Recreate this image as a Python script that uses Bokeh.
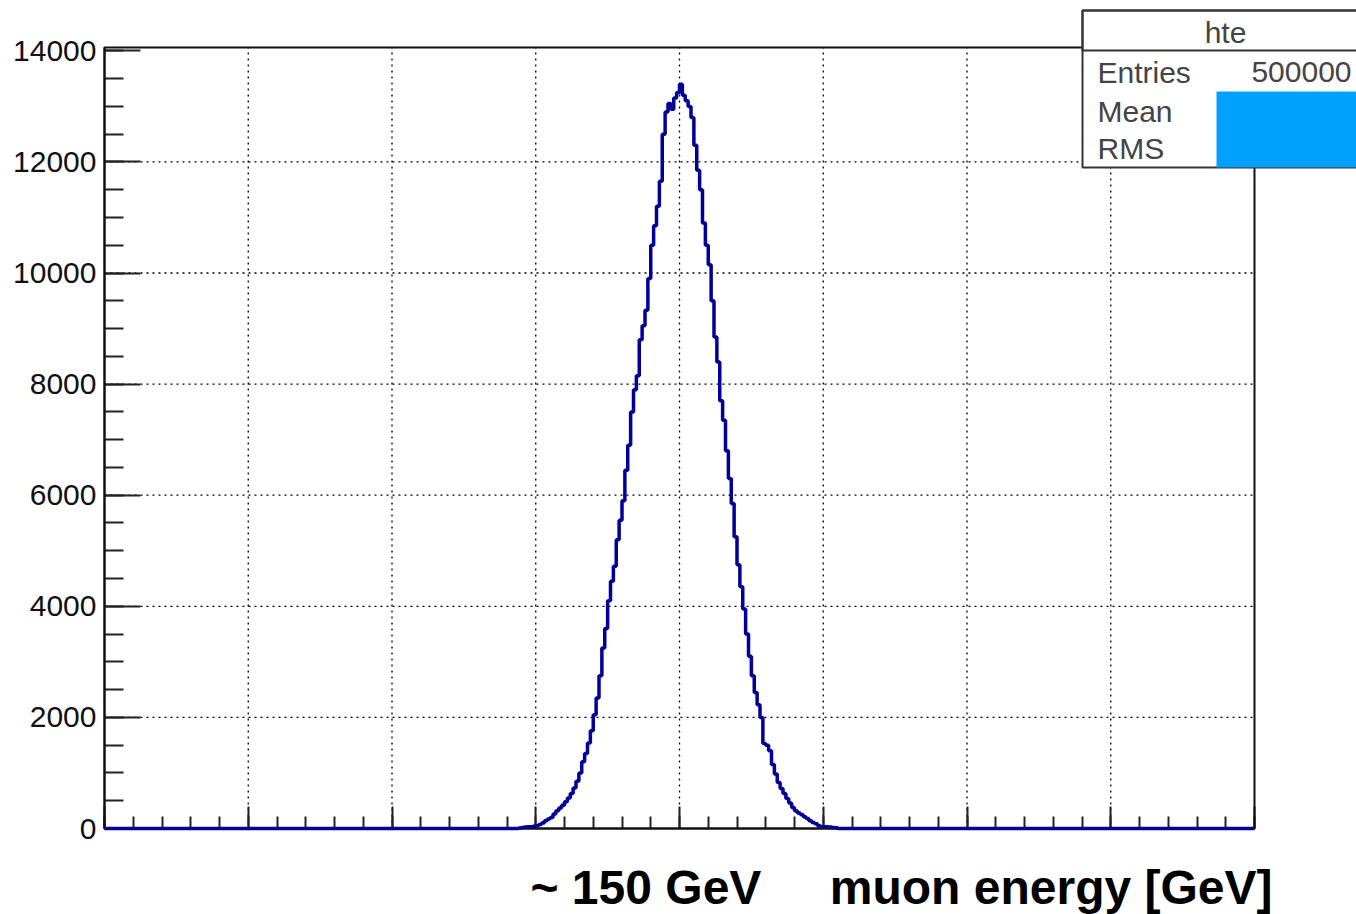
from bokeh.plotting import figure
from bokeh.models import Range1d, FixedTicker, Label, BoxAnnotation
from bokeh.embed import file_html
from bokeh.resources import INLINE

# ---- data ----
x_min, x_max = 0.0, 300.0        # muon energy range [GeV]
n_bins = 400
first_bin = 143                  # index of first listed bin
counts = [
    0, 10, 20, 25, 30, 30, 40, 50, 70, 100,
    140, 170, 200, 260, 320, 370, 420, 480, 550, 630,
    730, 850, 1000, 1200, 1350, 1540, 1760, 2050, 2350, 2750,
    3250, 3600, 4100, 4450, 4720, 5200, 5550, 5900, 6450, 6900,
    7500, 7900, 8150, 8800, 9050, 9330, 9900, 10500, 10850, 11200,
    11650, 12500, 12900, 13050, 12950, 13150, 13250, 13400, 13200, 13100,
    13000, 12800, 12300, 11850, 11500, 10900, 10500, 10150, 9500, 8850,
    8400, 7700, 7350, 6800, 6300, 5850, 5250, 4750, 4350, 3950,
    3500, 3100, 2750, 2450, 2230, 2000, 1530, 1500, 1400, 1150,
    980, 830, 720, 630, 540, 460, 380, 320, 280, 250,
    210, 180, 140, 110, 85, 50, 35, 30, 30, 25,
    20, 15, 0,
]
y_ticks = [0, 2000, 4000, 6000, 8000, 10000, 12000, 14000]
stats_title = "hte"
stats_rows = ["Entries", "Mean", "RMS"]
entries_text = "500000"
label_energy = "~ 150 GeV"
label_axis = "muon energy [GeV]"

# ---- build histogram arrays ----
bw = (x_max - x_min) / n_bins
vals = [0.0] * n_bins
for k, c in enumerate(counts):
    vals[first_bin + k] = c
edges = [x_min + i * bw for i in range(n_bins + 1)]
ys = vals + [vals[-1]]

Y_TOP = 14060.0
FONT = "Liberation Sans"
W, H = 1356, 914
# ROOT pad frame position on the page (pixels)
FL, FR, FT, FB = 104.0, 1254.0, 47.0, 828.0

def dx(px):
    return x_min + (px - FL) / (FR - FL) * (x_max - x_min)
def dy(py):
    return (FB - py) / (FB - FT) * Y_TOP

p = figure(width=W, height=H, output_backend="svg", toolbar_location=None,
           x_range=Range1d(dx(0), dx(W)), y_range=Range1d(dy(H), dy(0)),
           min_border=0, title=None)
p.background_fill_color = "white"
p.border_fill_color = "white"
p.outline_line_color = None
p.xgrid.visible = False
p.ygrid.visible = False

# axes, fixed at the frame edges
xmaj = [x_min + i * (x_max - x_min) / 8 for i in range(9)]
xmin_t = [x_min + i * (x_max - x_min) / 40 for i in range(41)]
p.xaxis.fixed_location = 0
p.xaxis.bounds = (x_min, x_max)
p.xaxis.ticker = FixedTicker(ticks=xmaj, minor_ticks=xmin_t)
p.xaxis.major_label_overrides = {t: "" for t in xmaj}
p.xaxis.major_tick_in = 22
p.xaxis.major_tick_out = 0
p.xaxis.minor_tick_in = 12
p.xaxis.minor_tick_out = 0

p.yaxis.fixed_location = x_min
p.yaxis.bounds = (0, Y_TOP)
p.yaxis.ticker = FixedTicker(ticks=y_ticks, minor_ticks=list(range(0, 14001, 500)))
p.yaxis.major_tick_in = 36
p.yaxis.major_tick_out = 0
p.yaxis.minor_tick_in = 19
p.yaxis.minor_tick_out = 0
p.yaxis.major_label_standoff = 8
p.yaxis.major_label_text_font = FONT
p.yaxis.major_label_text_font_size = "30px"
p.yaxis.major_label_text_color = "#111111"

for ax in (p.xaxis, p.yaxis):
    ax.axis_line_color = "#111111"
    ax.axis_line_width = 2
    ax.major_tick_line_color = "#222222"
    ax.major_tick_line_width = 2
    ax.minor_tick_line_color = "#222222"
    ax.minor_tick_line_width = 2

# dotted grid lines at the major ticks, inside the frame only
gx = xmaj[1:-1]
gy = y_ticks[1:-1]
p.segment(x0=gx, y0=[0] * len(gx), x1=gx, y1=[Y_TOP] * len(gx),
          line_color="black", line_dash="2 4", line_width=1.3, level="underlay")
p.segment(x0=[x_min] * len(gy), y0=gy, x1=[x_max] * len(gy), y1=gy,
          line_color="black", line_dash="2 4", line_width=1.3, level="underlay")

# frame box
p.add_layout(BoxAnnotation(left=x_min, right=x_max, bottom=0, top=Y_TOP,
                           fill_alpha=0, line_color="#111111", line_width=2, line_alpha=1.0))

# histogram
p.step(x=edges, y=ys, mode="after", line_color="#000099", line_width=3.5, level="overlay")

# text helper: place alphabetic baseline at a page pixel row
def text_y(baseline_px, size):
    return dy(baseline_px - 0.34 * size)

# bottom text
for txt, px, align in ((label_energy, 530, "left"), (label_axis, 1272, "right")):
    p.add_layout(Label(x=dx(px), y=text_y(903, 48), text=txt, text_font=FONT,
                       text_font_style="bold", text_font_size="48px",
                       text_align=align, text_baseline="alphabetic",
                       text_color="black"))

# stats box
p.add_layout(BoxAnnotation(left=dx(1082), right=dx(1420), top=dy(10), bottom=dy(167),
                           fill_color="white", fill_alpha=1.0,
                           line_color="#333333", line_width=2, line_alpha=1.0))
p.add_layout(BoxAnnotation(left=dx(1216), right=dx(1420), top=dy(91), bottom=dy(167),
                           fill_color="#00a0ff", fill_alpha=1.0, line_alpha=0))
p.add_layout(BoxAnnotation(left=dx(1082), right=dx(1420), top=dy(10), bottom=dy(50),
                           fill_alpha=0, line_color="#333333", line_width=2, line_alpha=1.0))
p.add_layout(Label(x=dx(1225), y=text_y(42, 30), text=stats_title, text_font=FONT,
                   text_font_size="30px", text_align="center", text_baseline="alphabetic"))
for name, base in zip(stats_rows, (82, 121, 158)):
    p.add_layout(Label(x=dx(1097), y=text_y(base, 30), text=name, text_font=FONT,
                       text_font_size="30px", text_align="left", text_baseline="alphabetic"))
p.add_layout(Label(x=dx(1351), y=text_y(82, 30), text=entries_text, text_font=FONT,
                   text_font_size="30px", text_align="right", text_baseline="alphabetic"))

open("out.html", "w").write(file_html(p, INLINE))
